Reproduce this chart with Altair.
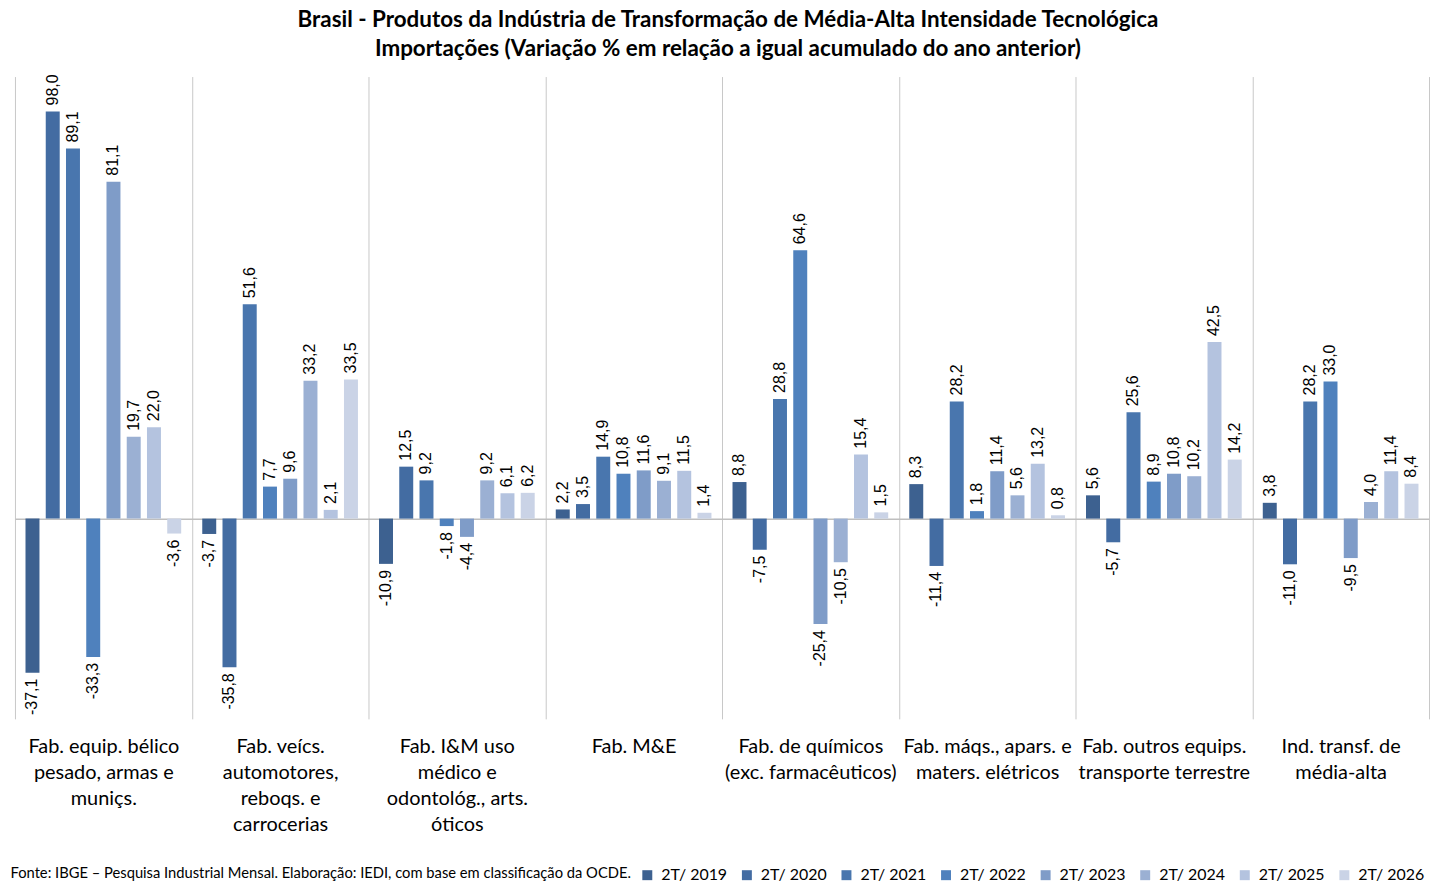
import altair as alt
import pandas as pd

categories = [
    "Fab. equip. bélico\npesado, armas e\nmuniçs.",
    "Fab. veícs.\nautomotores,\nreboqs. e\ncarrocerias",
    "Fab. I&M uso\nmédico e\nodontológ., arts.\nóticos",
    "Fab. M&E",
    "Fab. de químicos\n(exc. farmacêuticos)",
    "Fab. máqs., apars. e\nmaters. elétricos",
    "Fab. outros equips.\ntransporte terrestre",
    "Ind. transf. de\nmédia-alta",
]
series = ["2T/ 2019", "2T/ 2020", "2T/ 2021", "2T/ 2022",
          "2T/ 2023", "2T/ 2024", "2T/ 2025", "2T/ 2026"]
v2019 = [-37.1, -3.7, -10.9, 2.2, 8.8, 8.3, 5.6, 3.8]
v2020 = [98.0, -35.8, 12.5, 3.5, -7.5, -11.4, -5.7, -11.0]
v2021 = [89.1, 51.6, 9.2, 14.9, 28.8, 28.2, 25.6, 28.2]
v2022 = [-33.3, 7.7, -1.8, 10.8, 64.6, 1.8, 8.9, 33.0]
v2023 = [81.1, 9.6, -4.4, 11.6, -25.4, 11.4, 10.8, -9.5]
v2024 = [19.7, 33.2, 9.2, 9.1, -10.5, 5.6, 10.2, 4.0]
v2025 = [22.0, 2.1, 6.1, 11.5, 15.4, 13.2, 42.5, 11.4]
v2026 = [-3.6, 33.5, 6.2, 1.4, 1.5, 0.8, 14.2, 8.4]
colors = ["#3D6190", "#436CA2", "#4976AE", "#4F81BD",
          "#7F9CC8", "#9BB0D3", "#B4C3DF", "#CAD3E6"]

title_lines = [
    "Brasil - Produtos da Indústria de Transformação de Média-Alta Intensidade Tecnológica",
    "Importações (Variação % em relação a igual acumulado do ano anterior)",
]
source = "Fonte: IBGE – Pesquisa Industrial Mensal. Elaboração: IEDI, com base em classificação da OCDE."

all_vals = [v2019, v2020, v2021, v2022, v2023, v2024, v2025, v2026]
rows = []
for s, vals in zip(series, all_vals):
    for c, v in zip(categories, vals):
        rows.append({"cat": c, "series": s, "value": v,
                     "label": f"{v:.1f}".replace(".", ",")})
df = pd.DataFrame(rows)

FONT = "Lato"

x_enc = alt.X(
    "cat:N", sort=categories, title=source,
    scale=alt.Scale(paddingInner=0, paddingOuter=0),
    axis=alt.Axis(
        orient="bottom", domain=False, ticks=False, grid=True,
        tickBand="extent", gridColor="#C8C8C8", gridWidth=1,
        labelAngle=0, labelFont=FONT, labelFontSize=20, labelLineHeight=26,
        labelPadding=18, labelBaseline="top", labelColor="#000000",
        labelExpr="split(datum.label, '\\n')", labelLimit=0,
        titleFont=FONT, titleFontSize=14.8, titleFontWeight="normal",
        titleColor="#000000", titleAnchor="start", titleAlign="left",
        titleBaseline="alphabetic", titleX=-5, titleY=159,
    ),
)
xo_enc = alt.XOffset("series:N", sort=series,
                     scale=alt.Scale(paddingInner=0.31, paddingOuter=0.52))
y_enc = alt.Y(
    "value:Q",
    scale=alt.Scale(domain=[-48.2, 106.4], nice=False, zero=False),
    axis=alt.Axis(values=[0], grid=True, gridColor="#BFBFBF", gridWidth=1.5,
                  domain=False, ticks=False, labels=False, title=None),
)

base = alt.Chart(df)

bars = base.mark_bar().encode(
    x=x_enc, xOffset=xo_enc, y=y_enc,
    color=alt.Color(
        "series:N", sort=series,
        scale=alt.Scale(domain=series, range=colors),
        legend=alt.Legend(
            orient="none", legendX=627, legendY=794, direction="horizontal",
            columns=8, title=None, symbolType="square", symbolSize=100,
            symbolStrokeWidth=0, labelFont=FONT, labelFontSize=16,
            labelColor="#000000", labelOffset=6, columnPadding=11,
        ),
    ),
)

pos_text = base.transform_filter("datum.value >= 0").mark_text(
    angle=270, align="left", baseline="middle", dx=6,
    font="Liberation Sans", fontSize=16, color="#000000",
).encode(x=x_enc, xOffset=xo_enc, y=y_enc, text="label:N")

neg_text = base.transform_filter("datum.value < 0").mark_text(
    angle=270, align="right", baseline="middle", dx=-6,
    font="Liberation Sans", fontSize=16, color="#000000",
).encode(x=x_enc, xOffset=xo_enc, y=y_enc, text="label:N")

chart = alt.layer(bars, pos_text, neg_text).properties(
    width=1420, height=645,
    autosize=alt.AutoSizeParams(type="none"),
    padding={"left": 7, "top": 67, "right": 1, "bottom": 162},
    title=alt.TitleParams(
        text=title_lines, font=FONT, fontSize=22.5, fontWeight="bold",
        lineHeight=29, anchor="middle", color="#000000", offset=14, dx=6,
    ),
).configure_view(strokeWidth=0)

chart.save("out.html", embed_options={"renderer": "svg", "actions": False})
